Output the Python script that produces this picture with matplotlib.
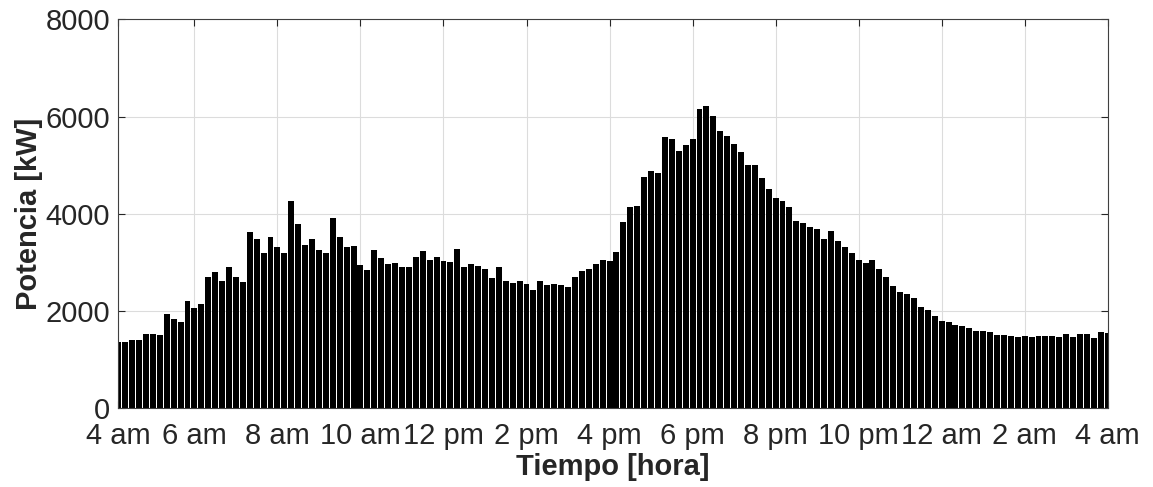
import numpy as np
import matplotlib.pyplot as plt

plt.rcParams['font.family'] = ['Liberation Sans', 'DejaVu Sans']

# potencia cada 10 minutos, desde las 4 am
potencia = [
    1370, 1357, 1398, 1404, 1528, 1528, 1507, 1939, 1830, 1775,
    2213, 2056, 2145, 2706, 2809, 2624, 2912, 2706, 2590, 3620,
    3480, 3187, 3520, 3323, 3187, 4270, 3800, 3357, 3474, 3255,
    3187, 3906, 3516, 3310, 3337, 2946, 2843, 3255, 3084, 2967,
    2981, 2899, 2899, 3117, 3228, 3049, 3117, 3035, 3014, 3269,
    2899, 2967, 2926, 2858, 2673, 2912, 2611, 2583, 2624, 2549,
    2433, 2624, 2529, 2563, 2529, 2488, 2693, 2817, 2871, 2961,
    3049, 3035, 3207, 3824, 4145, 4159, 4750, 4880, 4840, 5580,
    5530, 5300, 5420, 5530, 6154, 6215, 6010, 5701, 5598, 5434,
    5263, 4996, 4996, 4741, 4509, 4318, 4262, 4133, 3851, 3804,
    3728, 3680, 3475, 3645, 3440, 3310, 3200, 3049, 2981, 3049,
    2864, 2693, 2515, 2385, 2344, 2275, 2090, 2021, 1904, 1795,
    1768, 1713, 1692, 1645, 1583, 1583, 1563, 1501, 1501, 1494,
    1460, 1480, 1460, 1494, 1494, 1494, 1473, 1528, 1473, 1528,
    1528, 1452, 1563, 1542,
]
tick_pos = [1, 12, 24, 36, 48, 60, 72, 84, 96, 108, 120, 132, 144]
tick_lab = ['4 am', '6 am', '8 am', '10 am', '12 pm', '2 pm', '4 pm',
            '6 pm', '8 pm', '10 pm', '12 am', '2 am', '4 am']

x = np.arange(1, len(potencia) + 1)

fig = plt.figure(figsize=(11.53, 4.87), dpi=100)
ax = fig.add_axes([0.1026, 0.1616, 0.8581, 0.7988])
ax.bar(x, potencia, width=0.86, color='black', linewidth=0, zorder=3)

ax.set_xlim(1, 144)
ax.set_ylim(0, 8000)
ax.set_xticks(tick_pos)
ax.set_xticklabels(tick_lab)
ax.set_yticks([0, 2000, 4000, 6000, 8000])

ax.grid(True, color='#dcdcdc', linewidth=0.8, zorder=0)
ax.tick_params(direction='in', length=5, width=0.8, colors='#262626',
               labelsize=21, pad=6, top=True, right=True)
ax.tick_params(axis='x', pad=10)
for s in ax.spines.values():
    s.set_color('#404040')
    s.set_linewidth(0.8)
    s.set_zorder(4)

ax.set_xlabel('Tiempo [hora]', fontsize=21, fontweight='bold', color='#262626', labelpad=2)
ax.set_ylabel('Potencia [kW]', fontsize=21, fontweight='bold', color='#262626', labelpad=2)

fig.savefig('out.png', dpi=100)
